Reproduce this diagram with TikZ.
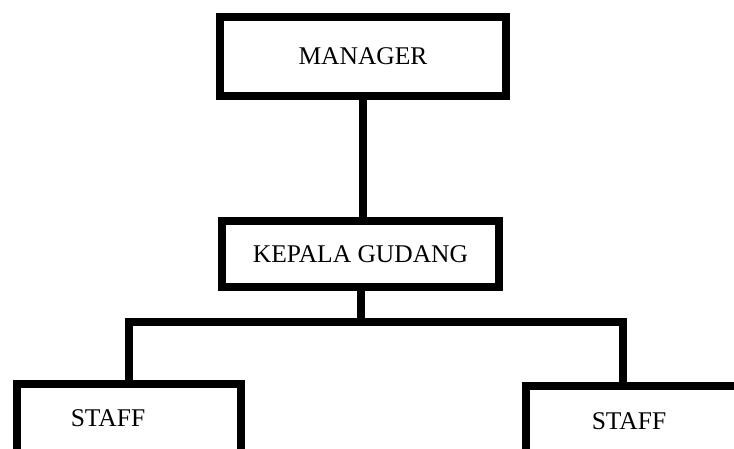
\documentclass[tikz,border=0pt]{standalone}
\usepackage{fontspec}
\setmainfont{Liberation Serif}
\usetikzlibrary{calc}
\begin{document}
\begin{tikzpicture}[x=1pt,y=-1pt,
  box/.style={draw=black,line width=8pt,rectangle,inner sep=0pt,fill=white},
  conn/.style={draw=black,line width=8pt},
  lbl/.style={inner sep=0pt,font=\fontsize{25.5}{30}\selectfont}]
\useasboundingbox (0,0) rectangle (734,448);
\clip (0,0) rectangle (734,448);
\fill[white] (0,0) rectangle (734,448);
\node[box,minimum width=286pt,minimum height=78.5pt,lbl] (manager) at (363,56.25) {MANAGER};
\node[box,minimum width=277pt,minimum height=66pt,lbl] (kepala) at (360.5,254) {KEPALA GUDANG};
\node[box,minimum width=224pt,minimum height=90pt] (staffL) at (129,429) {};
\node[box,minimum width=224pt,minimum height=90pt] (staffR) at (638,431) {};
\node[lbl] (tL) at (108,418) {STAFF};
\node[lbl] (tR) at (629,421) {STAFF};
\coordinate (bus) at (kepala.south |- 0,322);
\draw[conn] (manager.south) -- (manager.south |- kepala.north);
\draw[conn] (kepala.south) -- (bus);
\draw[conn] (bus) -| (staffL.north);
\draw[conn] (bus) -| ($(staffR.north west)+(101,0)$);
\end{tikzpicture}
\end{document}
